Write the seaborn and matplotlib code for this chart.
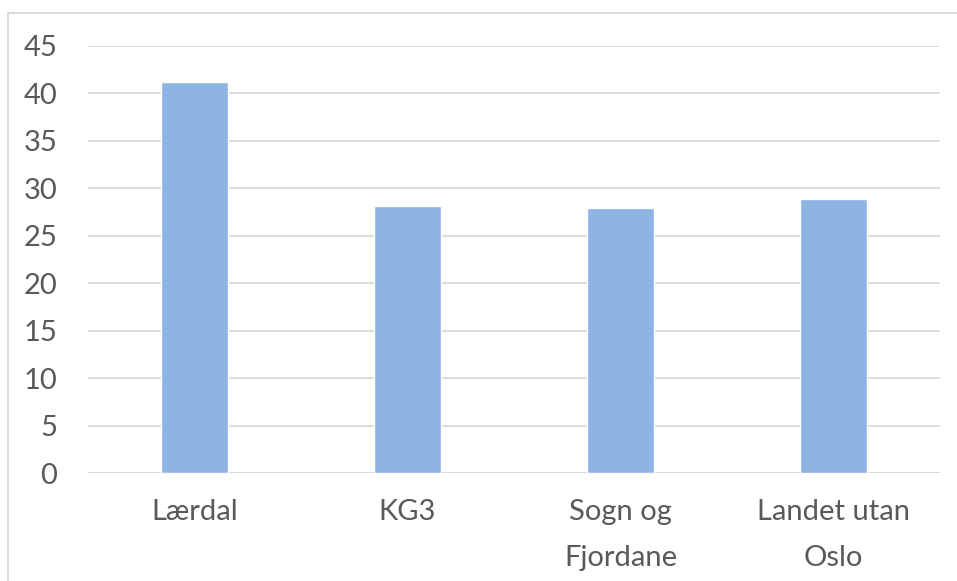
import numpy as np
import pandas as pd
import matplotlib.pyplot as plt
import seaborn as sns
from matplotlib.patches import Rectangle

# Data
categories = ['Lærdal', 'KG3', 'Sogn og\nFjordane', 'Landet utan\nOslo']
values = [41.2, 28.1, 27.9, 28.9]
yticks = [0, 5, 10, 15, 20, 25, 30, 35, 40, 45]

df = pd.DataFrame({'kategori': categories, 'verdi': values})

sns.set_theme(style='white')
plt.rcParams['font.family'] = ['Lato', 'DejaVu Sans']

fig = plt.figure(figsize=(9.57, 5.81), dpi=100)
ax = fig.add_axes([88 / 957, 1 - 473 / 581, 852 / 957, 427 / 581])

sns.barplot(data=df, x='kategori', y='verdi', color='#8eb4e3', saturation=1,
            width=0.31, ax=ax, zorder=3)

ax.set_ylim(0, 45)
ax.set_xlim(-0.5, 3.5)
ax.set_yticks(yticks)
ax.set_yticklabels([str(t) for t in yticks])
ax.yaxis.grid(True, color='#d9d9d9', linewidth=1.3, zorder=0)
ax.set_axisbelow(True)
for s in ax.spines.values():
    s.set_visible(False)
ax.axhline(0, color='#d9d9d9', linewidth=1.3, zorder=1)

ax.set_xlabel('')
ax.set_ylabel('')
ax.tick_params(axis='y', labelsize=21, labelcolor='#595959', length=0, pad=22)
ax.tick_params(axis='x', labelsize=21, labelcolor='#595959', length=0, pad=19)
for lab in ax.get_xticklabels():
    lab.set_linespacing(1.95)

# outer chart border
fig.patches.append(Rectangle((8 / 957, -0.05), 1.1, 1 - 13 / 581 + 0.05,
                             transform=fig.transFigure, fill=False,
                             edgecolor='#d9d9d9', linewidth=1.3))

plt.savefig('out.png', dpi=100)
